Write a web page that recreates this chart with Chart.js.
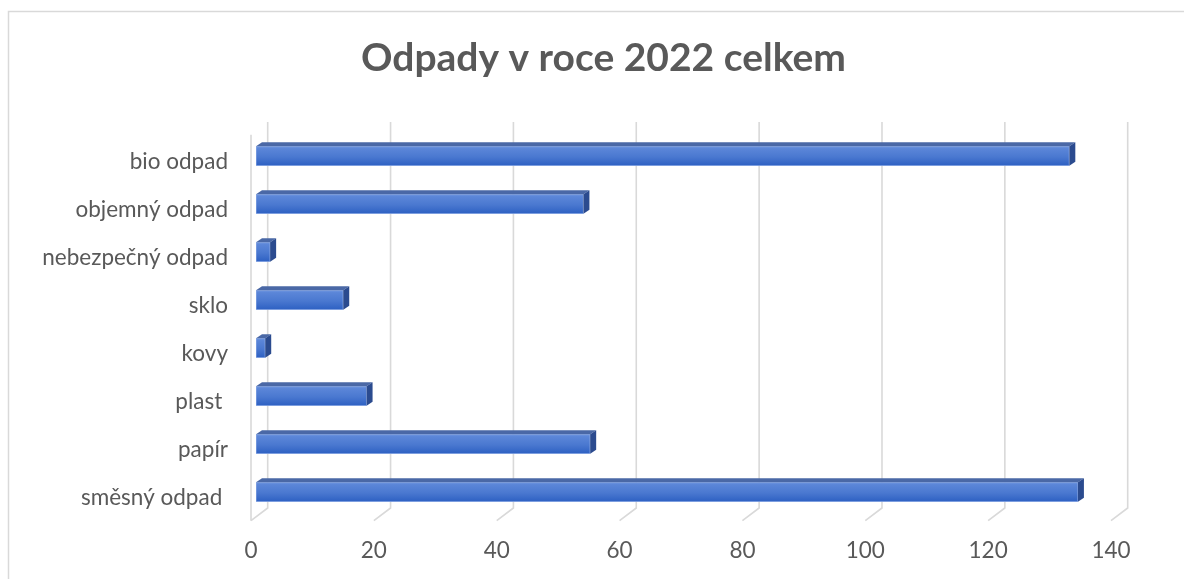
<!DOCTYPE html>
<html>
<head>
<meta charset="utf-8">
<script src="https://cdn.jsdelivr.net/npm/chart.js@4/dist/chart.umd.min.js"></script>
<style>
  html, body { margin: 0; padding: 0; background: #ffffff; }
  #wrap { width: 1184px; height: 579px; position: relative; }
</style>
</head>
<body>
<div id="wrap"><canvas id="c"></canvas></div>
<script>
// ---- data ----
const categories = ['bio odpad', 'objemný odpad', 'nebezpečný odpad', 'sklo', 'kovy', 'plast ', 'papír', 'směsný odpad '];
const values = [132.4, 53.3, 2.3, 14.2, 1.5, 18.0, 54.4, 133.8];
const xTicks = [0, 20, 40, 60, 80, 100, 120, 140];
const chartTitle = 'Odpady v roce 2022 celkem';

const TEXT = '#595959';
const GRID = '#d9d9d9';
const DX = 6, DY = 4;          // bar depth
const BACK = 11.7, FRONT = -5; // wall offsets from bar plane

const frame = {
  id: 'frame',
  beforeDraw(chart) {
    const c = chart.ctx;
    c.save();
    c.strokeStyle = GRID;
    c.lineWidth = 1.5;
    c.strokeRect(8.5, 11.5, 1400, 800);
    c.restore();
  }
};

const titlePlugin = {
  id: 'titleText',
  afterDraw(chart) {
    const c = chart.ctx;
    c.save();
    c.fillStyle = TEXT;
    c.font = 'bold 39px Lato';
    c.textAlign = 'center';
    c.textBaseline = 'alphabetic';
    c.fillText(chartTitle, 603.5, 71);
    c.restore();
  }
};

const walls = {
  id: 'walls',
  beforeDatasetsDraw(chart) {
    const c = chart.ctx, xs = chart.scales.x, a = chart.chartArea;
    const backTop = a.top - 10, backBot = a.bottom - 8, frontBot = a.bottom + 4.7;
    c.save();
    c.strokeStyle = GRID;
    c.lineWidth = 1.6;
    xTicks.forEach(v => {
      const p = xs.getPixelForValue(v);
      c.beginPath();
      c.moveTo(p + BACK, backTop);
      c.lineTo(p + BACK, backBot);
      c.lineTo(p + FRONT, frontBot);
      c.stroke();
    });
    const p0 = xs.getPixelForValue(0) + FRONT;
    c.beginPath();
    c.moveTo(p0, backTop + 12.7);
    c.lineTo(p0, frontBot);
    c.stroke();
    c.restore();
  }
};

const bars3d = {
  id: 'bars3d',
  afterDatasetsDraw(chart) {
    const c = chart.ctx;
    const meta = chart.getDatasetMeta(0);
    c.save();
    meta.data.forEach(el => {
      const p = el.getProps(['x', 'y', 'base', 'height'], true);
      const top = p.y - p.height / 2, bot = p.y + p.height / 2;
      const l = Math.min(p.base, p.x), r = Math.max(p.base, p.x);
      c.fillStyle = '#4a68a6';
      c.beginPath();
      c.moveTo(l, top); c.lineTo(l + DX, top - DY); c.lineTo(r + DX, top - DY); c.lineTo(r, top);
      c.closePath(); c.fill();
      c.fillStyle = '#2b4b8f';
      c.beginPath();
      c.moveTo(r, top); c.lineTo(r + DX, top - DY); c.lineTo(r + DX, bot - DY); c.lineTo(r, bot);
      c.closePath(); c.fill();
    });
    c.restore();
  }
};

const BAR_T = 19.5;
function barFill(ctx) {
  const chart = ctx.chart;
  if (ctx.dataIndex === undefined || !chart.scales.y) return '#4472c4';
  const yc = chart.scales.y.getPixelForValue(ctx.dataIndex);
  if (!isFinite(yc)) return '#4472c4';
  const g = chart.ctx.createLinearGradient(0, yc - BAR_T / 2, 0, yc + BAR_T / 2);
  g.addColorStop(0, '#7097e0');
  g.addColorStop(0.12, '#5b86d8');
  g.addColorStop(0.55, '#4a78d0');
  g.addColorStop(1, '#2d60c2');
  return g;
}

new Chart(document.getElementById('c'), {
  type: 'bar',
  data: {
    labels: categories,
    datasets: [{
      data: values,
      backgroundColor: barFill,
      borderColor: 'rgba(140,170,230,0.9)',
      borderWidth: 0.8,
      borderSkipped: false,
      barThickness: BAR_T
    }]
  },
  plugins: [frame, walls, bars3d, titlePlugin],
  options: {
    indexAxis: 'y',
    responsive: true,
    maintainAspectRatio: false,
    animation: false,
    events: [],
    layout: { padding: { left: 0, right: 68, top: 132, bottom: 0 } },
    plugins: {
      legend: { display: false },
      tooltip: { enabled: false },
      title: { display: false }
    },
    scales: {
      x: {
        min: 0, max: 140,
        afterBuildTicks: (s) => { s.ticks = xTicks.map(v => ({ value: v })); },
        afterFit: (s) => { s.height = 63; },
        grid: { display: false, drawTicks: false },
        border: { display: false },
        ticks: {
          color: TEXT,
          font: { family: 'Lato', size: 22.5 },
          padding: 21,
          labelOffset: FRONT,
          maxRotation: 0
        }
      },
      y: {
        afterFit: (s) => { s.width = 256; },
        grid: { display: false, drawTicks: false },
        border: { display: false },
        ticks: {
          color: TEXT,
          font: { family: 'Lato', size: 22.5 },
          padding: 28,
          labelOffset: 5.5,
          autoSkip: false
        }
      }
    }
  }
});
</script>
</body>
</html>
